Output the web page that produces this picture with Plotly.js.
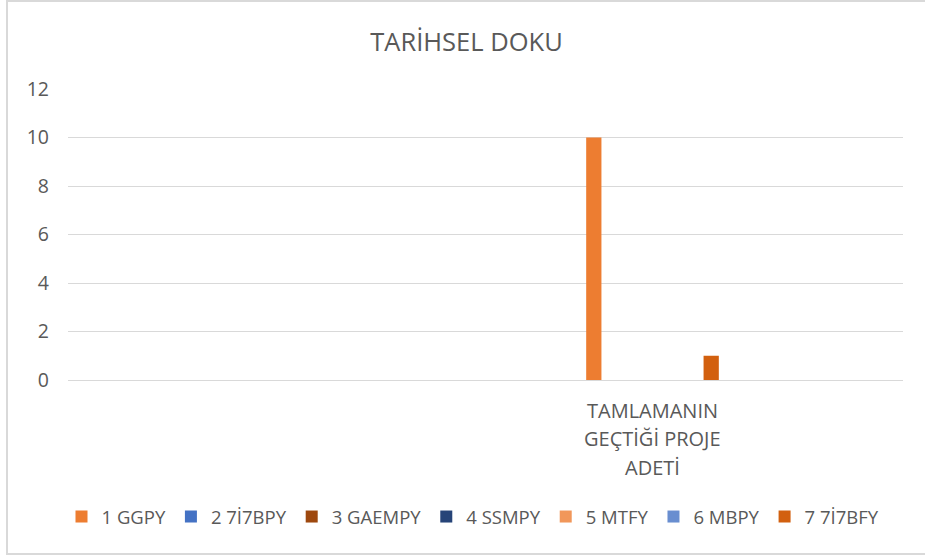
<!DOCTYPE html>
<html>
<head>
<meta charset="utf-8">
<script src="https://cdn.plot.ly/plotly-3.0.1.min.js"></script>
<style>
  html, body { margin: 0; padding: 0; background: #ffffff; overflow: hidden; }
  #wrap { position: relative; width: 925px; height: 557px; overflow: hidden; }
  #chart { position: absolute; left: 0; top: 0; width: 925px; height: 557px; }
  #frame { position: absolute; left: 6px; top: 0px; width: 930px; height: 555px;
           border: 2px solid #D9D9D9; box-sizing: border-box; pointer-events: none; }
</style>
</head>
<body>
<div id="wrap">
  <div id="chart"></div>
  <div id="frame"></div>
</div>
<script>
// ---- data ----
const chartTitle = "TARİHSEL DOKU";
const categories = ["k1", "k2", "k3", "k4", "k5"];
const categoryLabels = ["", "", "", "TAMLAMANIN<br>GEÇTİĞİ PROJE<br>ADETİ", ""];
const seriesNames = ["1 GGPY", "2 7İ7BPY", "3 GAEMPY", "4 SSMPY", "5 MTFY", "6 MBPY", "7 7İ7BFY"];
const s1 = [null, null, null, 10, null];
const s2 = [null, null, null, null, null];
const s3 = [null, null, null, null, null];
const s4 = [null, null, null, null, null];
const s5 = [null, null, null, null, null];
const s6 = [null, null, null, null, null];
const s7 = [null, null, null, 1, null];
const yTicks = [0, 2, 4, 6, 8, 10, 12];

// ---- styles ----
const seriesValues = [s1, s2, s3, s4, s5, s6, s7];
const colors = ["#ED7D31", "#4472C4", "#9E480E", "#264478", "#F1975A", "#698ED0", "#D2600F"];
const textColor = "#595959";
const fontFam = "'Open Sans', 'Noto Sans', sans-serif";

const traces = seriesNames.map((name, i) => ({
  type: "bar",
  name: name,
  x: categories,
  y: seriesValues[i],
  marker: { color: colors[i], line: { width: 0 } },
  hoverinfo: "none"
}));

// category labels as annotations (one per line) for Excel-like line spacing
const annotations = [];
const lineOffsets = [30, 58, 87];
categoryLabels.forEach((lab, ci) => {
  if (!lab) return;
  lab.split("<br>").forEach((line, li) => {
    annotations.push({
      x: categories[ci], xref: "x",
      y: 0, yref: "paper",
      yanchor: "middle", xanchor: "center",
      yshift: -lineOffsets[li],
      text: line, showarrow: false,
      font: { family: fontFam, size: 20, color: textColor }
    });
  });
});

const layout = {
  width: 925, height: 557,
  margin: { l: 68, r: 22, t: 89, b: 177 },
  paper_bgcolor: "#ffffff", plot_bgcolor: "#ffffff",
  font: { family: fontFam, color: textColor },
  title: {
    text: chartTitle,
    x: 466.5 / 925, xref: "container", xanchor: "center",
    y: 1 - 42 / 557, yref: "container", yanchor: "middle",
    font: { family: fontFam, size: 25.5, color: textColor }
  },
  barmode: "group",
  bargap: 0.18,
  bargroupgap: 0.22,
  xaxis: {
    type: "category",
    showticklabels: false,
    showgrid: false, zeroline: false, showline: false,
    ticks: "", range: [-0.5, 4.5], fixedrange: true
  },
  yaxis: {
    range: [0, 12],
    tickvals: yTicks,
    ticktext: yTicks.map(String),
    showgrid: true, gridcolor: "#D9D9D9", gridwidth: 1,
    zeroline: true, zerolinecolor: "#D9D9D9", zerolinewidth: 1,
    showline: false, ticks: "",
    ticklabelstandoff: 18,
    tickfont: { family: fontFam, size: 19.5, color: textColor },
    fixedrange: true
  },
  showlegend: true,
  legend: {
    orientation: "h",
    xref: "container", yref: "container",
    x: 473 / 925, xanchor: "center",
    y: 1 - 517 / 557, yanchor: "middle",
    font: { family: fontFam, size: 18.5, color: textColor },
    bgcolor: "rgba(0,0,0,0)",
    itemclick: false, itemdoubleclick: false,
    traceorder: "normal"
  },
  annotations: annotations
};

Plotly.newPlot("chart", traces, layout, { staticPlot: true, displayModeBar: false });
</script>
</body>
</html>
